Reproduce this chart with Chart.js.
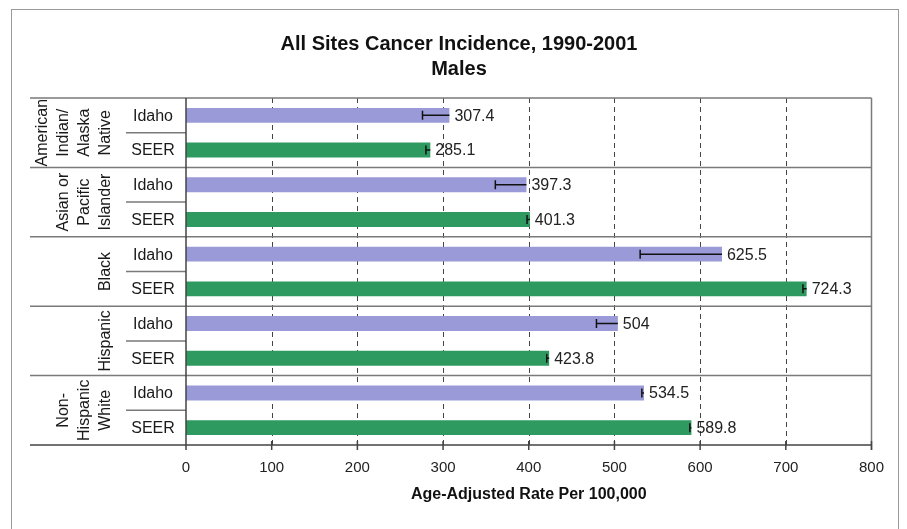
<!DOCTYPE html>
<html>
<head>
<meta charset="utf-8">
<script src="https://cdn.jsdelivr.net/npm/chart.js@4.4.0/dist/chart.umd.min.js"></script>
<style>
  html, body { margin: 0; padding: 0; background: #fff; }
  #c { display: block; }
</style>
</head>
<body>
<canvas id="c" width="907" height="529"></canvas>
<script>
// ---- data ----
const titleLines = ['All Sites Cancer Incidence, 1990-2001', 'Males'];
const xAxisTitle = 'Age-Adjusted Rate Per 100,000';
const groupLabels = [
  ['American', 'Indian/', 'Alaska', 'Native'],
  ['Asian or', 'Pacific', 'Islander'],
  ['Black'],
  ['Hispanic'],
  ['Non-', 'Hispanic', 'White']
];
const sources = ['Idaho', 'SEER'];
const idahoValues = [307.4, 397.3, 625.5, 504, 534.5];
const seerValues = [285.1, 401.3, 724.3, 423.8, 589.8];
const idahoLower = [276, 361, 530, 479, 532];
const seerLower = [280, 398, 720, 421, 588];
const xTicks = [0, 100, 200, 300, 400, 500, 600, 700, 800];

// ---- styles ----
const FONT = 'Arial, "Liberation Sans", Helvetica, sans-serif';
const idahoColor = '#9a9ad8';
const seerColor = '#2e9a60';

// build rows
const rowLabels = [], rowValues = [], rowLower = [], rowColors = [];
groupLabels.forEach((g, i) => {
  rowLabels.push(g.join(' ') + ' | ' + sources[0]);
  rowValues.push(idahoValues[i]);
  rowLower.push(idahoLower[i]);
  rowColors.push(idahoColor);
  rowLabels.push(g.join(' ') + ' | ' + sources[1]);
  rowValues.push(seerValues[i]);
  rowLower.push(seerLower[i]);
  rowColors.push(seerColor);
});

const decor = {
  id: 'decor',
  beforeDatasetsDraw(chart) {
    const { ctx, chartArea: a, scales: { x } } = chart;
    ctx.save();
    ctx.strokeStyle = '#444';
    ctx.lineWidth = 1;
    ctx.setLineDash([5, 4]);
    xTicks.forEach(v => {
      if (v === 0 || v === 800) return;
      const px = Math.round(x.getPixelForValue(v)) + 0.5;
      ctx.beginPath();
      ctx.moveTo(px, a.top);
      ctx.lineTo(px, a.bottom);
      ctx.stroke();
    });
    ctx.restore();
  },
  afterDatasetsDraw(chart) {
    const { ctx, chartArea: a, scales: { x, y } } = chart;
    const meta = chart.getDatasetMeta(0);
    ctx.save();
    // error bars
    ctx.strokeStyle = '#111';
    ctx.lineWidth = 1.5;
    meta.data.forEach((bar, i) => {
      const x0 = x.getPixelForValue(rowLower[i]);
      const x1 = x.getPixelForValue(rowValues[i]);
      const yy = bar.y;
      ctx.beginPath();
      ctx.moveTo(x0, yy);
      ctx.lineTo(x1, yy);
      ctx.moveTo(x0, yy - 4.5);
      ctx.lineTo(x0, yy + 4.5);
      ctx.stroke();
    });
    // value labels
    ctx.fillStyle = '#222';
    ctx.font = '16px ' + FONT;
    ctx.textAlign = 'left';
    ctx.textBaseline = 'middle';
    meta.data.forEach((bar, i) => {
      const x1 = x.getPixelForValue(rowValues[i]);
      ctx.fillText(String(rowValues[i]), x1 + 5, bar.y + 1);
    });

    // frame lines
    const rowH = (a.bottom - a.top) / rowValues.length;
    ctx.strokeStyle = '#7a7a7a';
    ctx.lineWidth = 1.5;
    ctx.beginPath();
    ctx.moveTo(30, a.top); ctx.lineTo(a.right, a.top);
    ctx.moveTo(a.right, a.top); ctx.lineTo(a.right, a.bottom + 5);
    for (let g = 1; g < groupLabels.length; g++) {
      const yy = a.top + g * 2 * rowH;
      ctx.moveTo(30, yy); ctx.lineTo(a.right, yy);
    }
    for (let g = 0; g < groupLabels.length; g++) {
      const yy = a.top + (g * 2 + 1) * rowH;
      ctx.moveTo(126, yy); ctx.lineTo(a.left, yy);
    }
    ctx.stroke();
    // axes
    ctx.strokeStyle = '#444';
    ctx.beginPath();
    ctx.moveTo(30, a.bottom); ctx.lineTo(a.right, a.bottom);
    ctx.moveTo(a.left, a.top); ctx.lineTo(a.left, a.bottom + 5);
    xTicks.forEach(v => {
      const px = x.getPixelForValue(v);
      ctx.moveTo(px, a.bottom - 4); ctx.lineTo(px, a.bottom + 5);
    });
    ctx.stroke();

    // sub labels
    ctx.fillStyle = '#1a1a1a';
    ctx.font = '16px ' + FONT;
    ctx.textAlign = 'center';
    ctx.textBaseline = 'middle';
    meta.data.forEach((bar, i) => {
      ctx.fillText(sources[i % 2], 153, bar.y + 1);
    });
    // group labels (rotated)
    groupLabels.forEach((lines, g) => {
      const cy = a.top + (g * 2 + 1) * rowH;
      const lastX = 106, step = 21;
      lines.forEach((ln, k) => {
        const lx = lastX - (lines.length - 1 - k) * step;
        ctx.save();
        ctx.translate(lx, cy);
        ctx.rotate(-Math.PI / 2);
        ctx.fillText(ln, 0, 0);
        ctx.restore();
      });
    });

    // titles
    ctx.fillStyle = '#111';
    ctx.font = 'bold 20px ' + FONT;
    ctx.fillText(titleLines[0], 459, 44);
    ctx.fillText(titleLines[1], 459, 69);
    ctx.font = 'bold 16px ' + FONT;
    ctx.fillText(xAxisTitle, (a.left + a.right) / 2, 495);

    // outer border
    ctx.strokeStyle = '#9a9a9a';
    ctx.lineWidth = 1;
    ctx.strokeRect(11.5, 9.5, 887, 540);
    ctx.restore();
  }
};

new Chart(document.getElementById('c'), {
  type: 'bar',
  data: {
    labels: rowLabels,
    datasets: [{
      data: rowValues,
      backgroundColor: rowColors,
      borderWidth: 0,
      barPercentage: 0.43,
      categoryPercentage: 1
    }]
  },
  options: {
    indexAxis: 'y',
    responsive: false,
    animation: false,
    events: [],
    layout: { padding: { top: 98, right: 35.5, left: 0, bottom: 0 } },
    plugins: { legend: { display: false }, tooltip: { enabled: false }, title: { display: false } },
    scales: {
      x: {
        min: 0, max: 800,
        afterBuildTicks: s => { s.ticks = xTicks.map(v => ({ value: v })); },
        ticks: { font: { family: FONT, size: 15 }, color: '#222', padding: 6, maxRotation: 0, autoSkip: false },
        grid: { display: false },
        border: { display: false },
        afterFit: s => { s.height = 84; }
      },
      y: {
        ticks: { display: false },
        grid: { display: false },
        border: { display: false },
        afterFit: s => { s.width = 186; }
      }
    }
  },
  plugins: [decor]
});
</script>
</body>
</html>
